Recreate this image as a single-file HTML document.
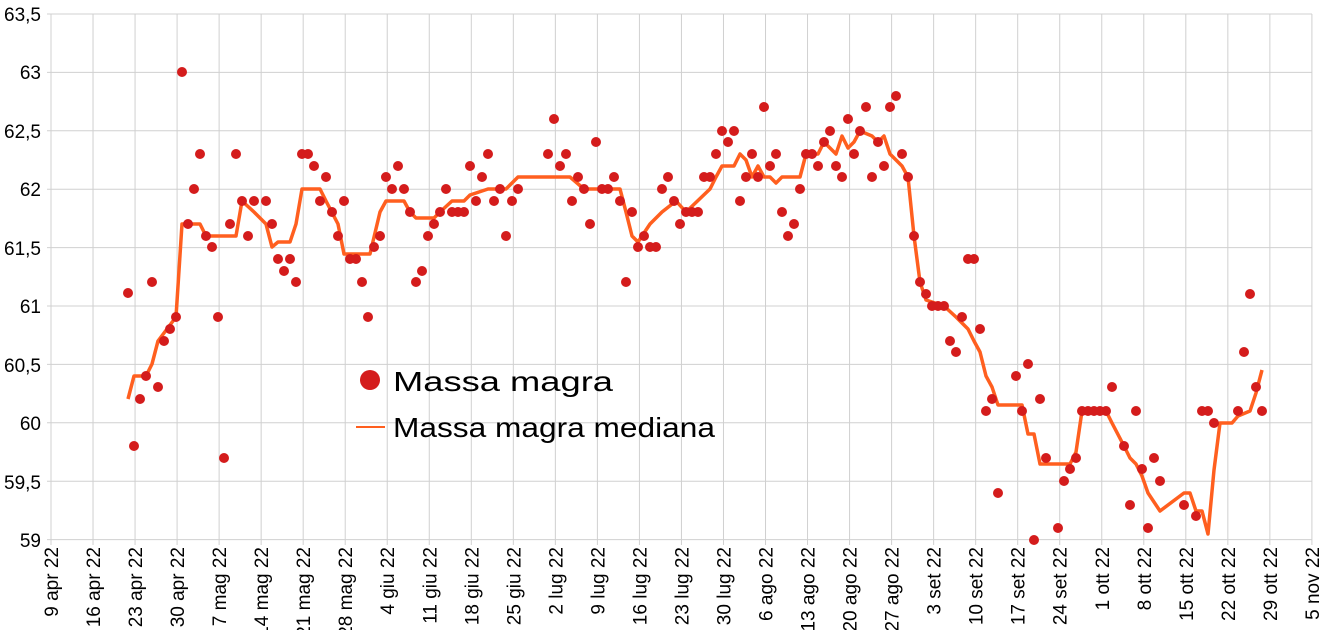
<!DOCTYPE html>
<html><head><meta charset="utf-8"><style>
html,body{margin:0;padding:0;background:#fff;}
svg{display:block;font-family:"Liberation Sans",Arial,sans-serif;}
</style></head><body>
<svg id="s" width="1327" height="630" viewBox="0 0 1327 630" xmlns="http://www.w3.org/2000/svg">
<g id="grid" stroke="#d0d0d0" stroke-width="1"></g>
<g font-size="19" fill="#000" text-anchor="end">
<text x="41" y="21">63,5</text><text x="41" y="79">63</text><text x="41" y="138">62,5</text>
<text x="41" y="196">62</text><text x="41" y="255">61,5</text><text x="41" y="313">61</text>
<text x="41" y="372">60,5</text><text x="41" y="430">60</text><text x="41" y="489">59,5</text>
<text x="41" y="547">59</text>
</g>
<g id="xl" font-size="19" fill="#000" text-anchor="end"></g>
<polyline id="med" fill="none" stroke="#ff5f1f" stroke-width="3.5" stroke-linejoin="round"></polyline>
<g id="dots" fill="#d41c1c"></g>
<circle cx="370" cy="380" r="10" fill="#d41c1c"/>
<text x="393" y="391" font-size="28" textLength="220" lengthAdjust="spacingAndGlyphs">Massa magra</text>
<line x1="356" y1="427" x2="385" y2="427" stroke="#ff5f1f" stroke-width="2"/>
<text x="393" y="437" font-size="28" textLength="322" lengthAdjust="spacingAndGlyphs">Massa magra mediana</text>
</svg>
<script>
var NS="http://www.w3.org/2000/svg";
function el(t,a,p){var e=document.createElementNS(NS,t);for(var k in a)e.setAttribute(k,a[k]);document.getElementById(p).appendChild(e);return e;}
for(var i=0;i<=9;i++){var y=14+i*58.4;el("line",{x1:47,x2:1312,y1:y,y2:y},"grid");}
var labs=["9 apr 22","16 apr 22","23 apr 22","30 apr 22","7 mag 22","14 mag 22","21 mag 22","28 mag 22","4 giu 22","11 giu 22","18 giu 22","25 giu 22","2 lug 22","9 lug 22","16 lug 22","23 lug 22","30 lug 22","6 ago 22","13 ago 22","20 ago 22","27 ago 22","3 set 22","10 set 22","17 set 22","24 set 22","1 ott 22","8 ott 22","15 ott 22","22 ott 22","29 ott 22","5 nov 22"];
for(var i=0;i<=30;i++){var x=51+i*42.03;el("line",{x1:x,x2:x,y1:14,y2:545},"grid");
var t=el("text",{transform:"translate("+(x+7)+",547) rotate(-90)"},"xl");t.textContent=labs[i];}
var d=[128,293,134,446,140,399,146,376,152,282,158,387,164,341,170,329,176,317,182,72,188,224,194,189,200,154,206,236,212,247,218,317,224,458,230,224,236,154,242,201,248,236,254,201,266,201,272,224,278,259,284,271,290,259,296,282,302,154,308,154,314,166,320,201,326,177,332,212,338,236,344,201,350,259,356,259,362,282,368,317,374,247,380,236,386,177,392,189,398,166,404,189,410,212,416,282,422,271,428,236,434,224,440,212,446,189,452,212,458,212,464,212,470,166,476,201,482,177,488,154,494,201,500,189,506,236,512,201,518,189,548,154,554,119,560,166,566,154,572,201,578,177,584,189,590,224,596,142,602,189,608,189,614,177,620,201,626,282,632,212,638,247,644,236,650,247,656,247,662,189,668,177,674,201,680,224,686,212,692,212,698,212,704,177,710,177,716,154,722,131,728,142,734,131,740,201,746,177,752,154,758,177,764,107,770,166,776,154,782,212,788,236,794,224,800,189,806,154,812,154,818,166,824,142,830,131,836,166,842,177,848,119,854,154,860,131,866,107,872,177,878,142,884,166,890,107,896,96,902,154,908,177,914,236,920,282,926,294,932,306,938,306,944,306,950,341,956,352,962,317,968,259,974,259,980,329,986,411,992,399,998,493,1016,376,1022,411,1028,364,1034,540,1040,399,1046,458,1058,528,1064,481,1070,469,1076,458,1082,411,1088,411,1094,411,1100,411,1106,411,1112,387,1124,446,1130,505,1136,411,1142,469,1148,528,1154,458,1160,481,1184,505,1196,516,1202,411,1208,411,1214,423,1238,411,1244,352,1250,294,1256,387,1262,411];
for(var i=0;i<d.length;i+=2)el("circle",{cx:d[i],cy:d[i+1],r:5},"dots");
var m=[128,399,134,376,146,376,152,364,158,341,176,317,182,224,200,224,206,236,236,236,242,201,254,212,266,224,272,247,278,242,290,242,296,224,302,189,320,189,326,201,338,224,344,254,370,254,380,212,386,201,404,201,410,212,416,218,434,218,440,212,452,201,464,201,470,195,488,189,506,189,518,177,570,177,584,189,620,189,626,212,632,236,638,242,650,224,662,212,676,201,686,212,710,189,716,177,722,166,734,166,740,154,746,160,752,177,758,166,764,177,770,177,776,183,782,177,800,177,806,154,818,154,824,142,836,154,842,136,848,148,854,142,860,131,872,136,878,142,884,136,890,154,902,166,908,177,914,236,920,282,926,300,944,306,956,317,968,329,974,341,980,352,986,376,992,387,998,405,1022,405,1028,434,1034,434,1040,464,1070,464,1076,452,1082,411,1106,411,1112,423,1124,446,1130,458,1136,464,1142,476,1148,493,1160,511,1184,493,1190,493,1196,511,1202,511,1208,534,1214,470,1220,423,1232,423,1238,416,1250,411,1256,393,1262,370];
var p="";for(var i=0;i<m.length;i+=2)p+=m[i]+","+m[i+1]+" ";
document.getElementById("med").setAttribute("points",p);
</script>
</body></html>
